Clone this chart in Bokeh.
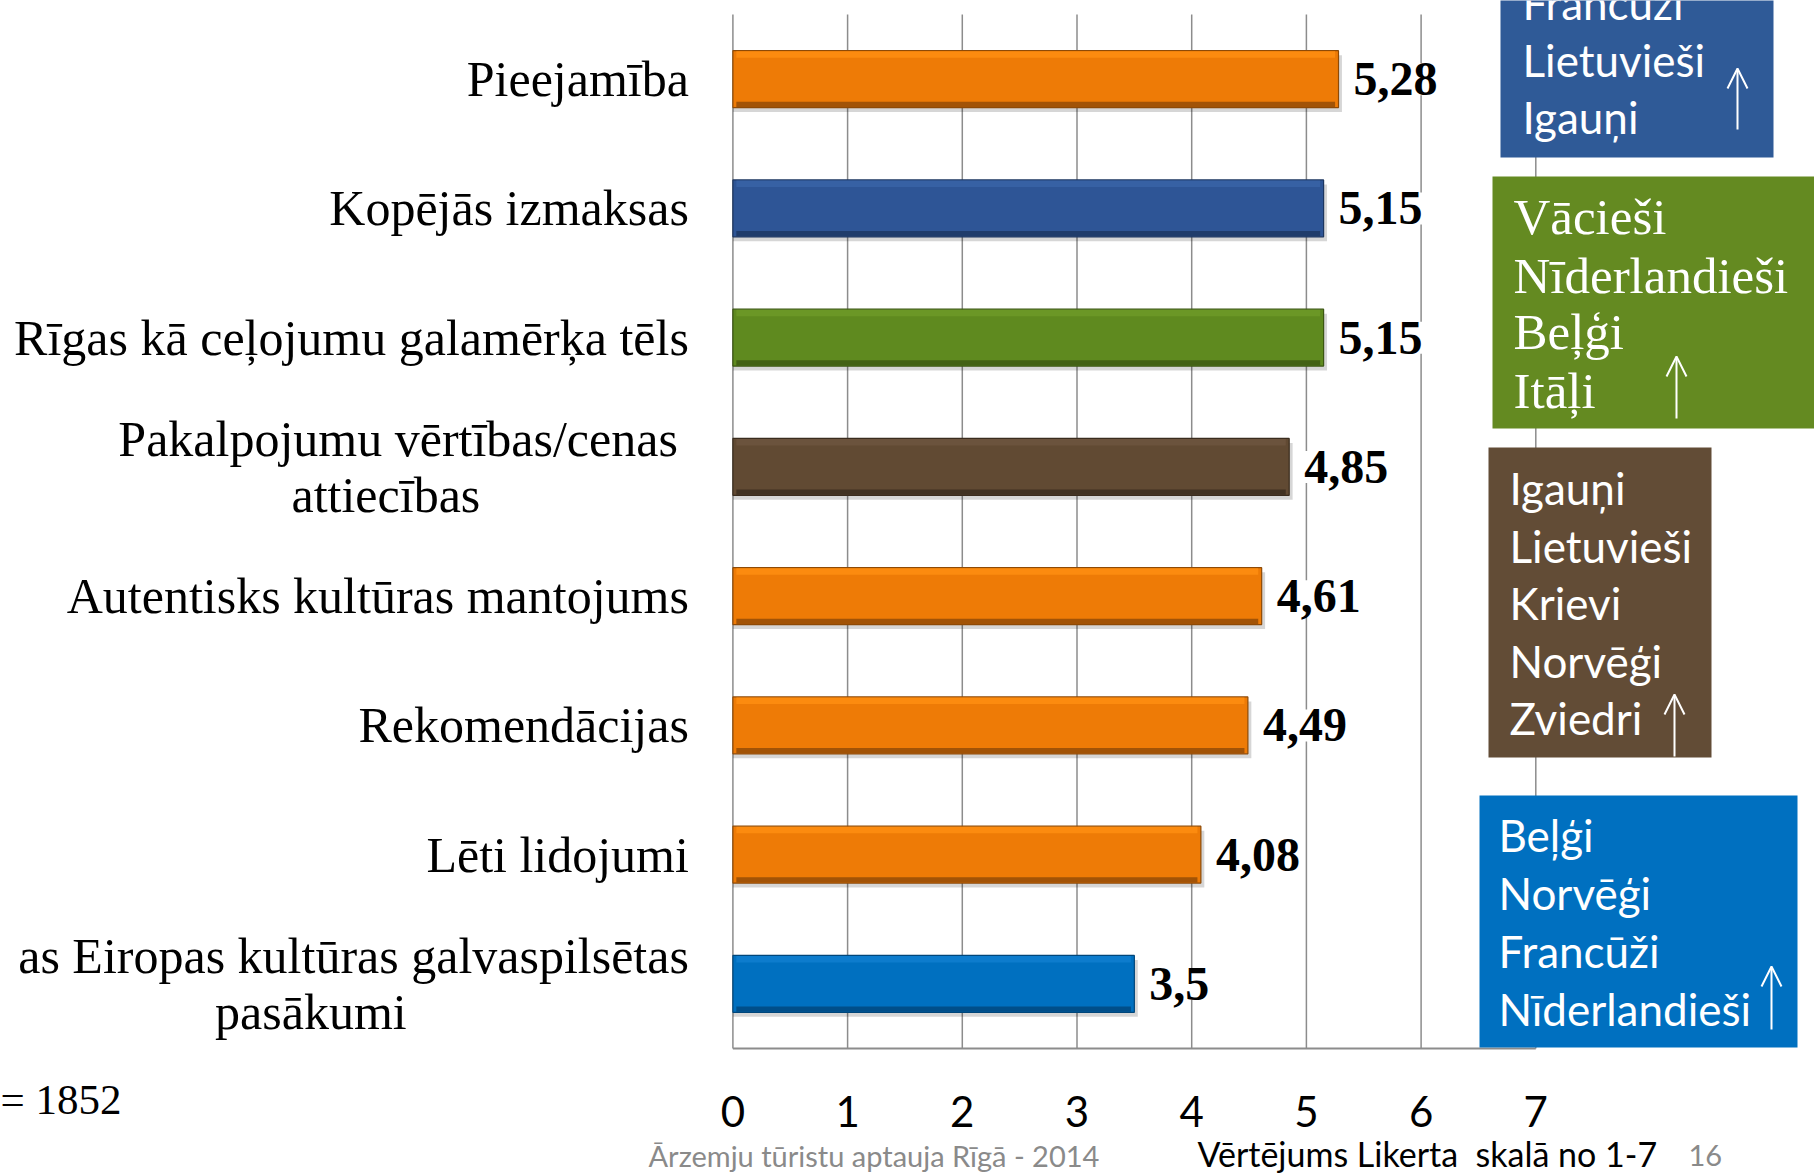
from bokeh.plotting import figure
from bokeh.layouts import column
from bokeh.models import Range1d, FactorRange, ColumnDataSource, Arrow, OpenHead
from bokeh.transform import dodge
from bokeh.core.properties import value
from bokeh.embed import file_html
from bokeh.resources import INLINE

# ---------------- data ----------------
categories = [
    "Pieejamība",
    "Kopējās izmaksas",
    "Rīgas kā ceļojumu galamērķa tēls",
    "Pakalpojumu vērtības/cenas attiecības",
    "Autentisks kultūras mantojums",
    "Rekomendācijas",
    "Lēti lidojumi",
    "Eiropas kultūras galvaspilsētas pasākumi",
]
label_line1 = [
    "Pieejamība",
    "Kopējās izmaksas",
    "Rīgas kā ceļojumu galamērķa tēls",
    "Pakalpojumu vērtības/cenas",
    "Autentisks kultūras mantojums",
    "Rekomendācijas",
    "Lēti lidojumi",
    "as Eiropas kultūras galvaspilsētas",
]
label_line2 = ["", "", "", "attiecības", "", "", "", "pasākumi"]
scores = [5.28, 5.15, 5.15, 4.85, 4.61, 4.49, 4.08, 3.5]
bar_colors = ["#EE7B06", "#2E5596", "#5F8A1F", "#614A33", "#EE7B06", "#EE7B06", "#EE7B06", "#0070C0"]
bar_dark = ["#8E4A06", "#1C3660", "#3B5612", "#3A2C1E", "#8E4A06", "#8E4A06", "#8E4A06", "#00467A"]
bar_light = ["#FF9012", "#3A64A8", "#6E9A28", "#6E5540", "#FF9012", "#FF9012", "#FF9012", "#1080D0"]
ticks = [0, 1, 2, 3, 4, 5, 6, 7]
tick_labels = ["0", "1", "2", "3", "4", "5", "6", "7"]

group1 = ["Francūži", "Lietuvieši", "Igauņi"]
group2 = ["Vācieši", "Nīderlandieši", "Beļģi", "Itāļi"]
group3 = ["Igauņi", "Lietuvieši", "Krievi", "Norvēģi", "Zviedri"]
group4 = ["Beļģi", "Norvēģi", "Francūži", "Nīderlandieši"]
box_colors = ["#2F5A97", "#648A21", "#624C36", "#0070C0"]

sample_text = "= 1852"
footer_left = "Ārzemju tūristu aptauja Rīgā - 2014"
footer_mid = "Vērtējums Likerta\u00a0 skalā no 1-7"
footer_page = "16"

# ---------------- layout (page pixels) ----------------
W, H = 1814, 1175
X0_PX, UNIT_PX = 732.4, 114.7
Y_TOP, Y_BOT = 14.0, 1048.0
ROW = (Y_BOT - Y_TOP) / len(categories)
H1 = 1062                      # height of the chart part
H2 = H - H1                    # height of the footer strip
PAD = Y_TOP / ROW              # synthetic padding above / below the rows


def dx(px):
    return (px - X0_PX) / UNIT_PX


def dy(py):
    return (Y_BOT - py) / ROW


x_range = Range1d(dx(0), dx(W))

p = figure(
    width=W, height=H1, x_range=x_range,
    y_range=FactorRange(factors=categories[::-1], range_padding=PAD, range_padding_units="absolute"),
    output_backend="svg", toolbar_location=None, title=None,
    x_axis_location=None, y_axis_location=None,
    min_border_left=0, min_border_right=0, min_border_top=0, min_border_bottom=0,
    background_fill_color="white", border_fill_color="white", outline_line_color=None,
)
for g in p.grid:
    g.visible = False

GRID = "#8C8C8C"
# vertical grid lines at the ticks, spanning the category rows, and the base line
p.segment(x0=ticks, x1=ticks, y0=[0] * len(ticks), y1=[len(categories)] * len(ticks),
          line_color=GRID, line_width=1.5)
p.segment(x0=[ticks[0]], y0=[0], x1=[ticks[-1]], y1=[0], line_color=GRID, line_width=2)

# bars
BAR_H = 0.44
src = ColumnDataSource(dict(
    cat=categories, score=scores, color=bar_colors, dark=bar_dark, light=bar_light,
    label=[("%g" % s).replace(".", ",") for s in scores],
))
p.hbar(y=dodge("cat", -0.035, range=p.y_range), left=0, right=dodge("score", 0.03), height=BAR_H,
       fill_color="#000000", fill_alpha=0.16, line_color=None, source=src)
p.hbar(y="cat", left=0, right="score", height=BAR_H, fill_color="color",
       line_color="dark", line_width=1.2, source=src)
p.hbar(y=dodge("cat", BAR_H / 2 - 0.03, range=p.y_range), left=0.03, right=dodge("score", -0.03),
       height=0.05, fill_color="light", fill_alpha=0.8, line_color=None, source=src)
p.hbar(y=dodge("cat", -BAR_H / 2 + 0.025, range=p.y_range), left=0.03, right=dodge("score", -0.03),
       height=0.04, fill_color="dark", fill_alpha=0.8, line_color=None, source=src)

# value labels
p.text(x="score", y="cat", text="label", x_offset=15, text_align="left", text_baseline="middle",
       text_font=value("Liberation Serif"), text_font_style="bold", text_font_size="48px",
       text_color="#000000", background_fill_color="white", source=src)

# category labels
single = [i for i in range(len(categories)) if not label_line2[i]]
double = [i for i in range(len(categories)) if label_line2[i]]
line1_offset = {3: -55, 7: -44}
line2_offset = {3: -347, 7: -422}
src_single = ColumnDataSource(dict(cat=[categories[i] for i in single], t=[label_line1[i] for i in single]))
src_double = ColumnDataSource(dict(
    cat=[categories[i] for i in double],
    t1=[label_line1[i] for i in double], t2=[label_line2[i] for i in double],
    o1=[line1_offset[i] for i in double], o2=[line2_offset[i] for i in double],
))
LBL = dict(text_font=value("Liberation Serif"), text_font_size="50px", text_color="#000000",
           text_baseline="middle")
p.text(x=0, y="cat", text="t", x_offset=-44, text_align="right", source=src_single, **LBL)
p.text(x=0, y=dodge("cat", 0.215, range=p.y_range), text="t1", x_offset="o1", text_align="right",
       source=src_double, **LBL)
p.text(x=0, y=dodge("cat", -0.215, range=p.y_range), text="t2", x_offset="o2", text_align="center",
       source=src_double, **LBL)

# side boxes (line positions are the vertical centres of the text lines)
boxes = [
    dict(l=1500, r=1773, t=-5, b=157, tx=1522, mid=[2, 59, 116], arrow=(1737, 129, 68),
         names=group1, font="Lato", size="44px"),
    dict(l=1492, r=1830, t=176, b=428, tx=1513, mid=[216, 275, 331, 390], arrow=(1676, 418, 356),
         names=group2, font="Liberation Serif", size="51px"),
    dict(l=1488, r=1711, t=447, b=757, tx=1509, mid=[487, 545, 602, 660, 717], arrow=(1674, 756, 694),
         names=group3, font="Lato", size="44px"),
    dict(l=1479, r=1797, t=795, b=1047, tx=1498, mid=[834, 892, 950, 1008], arrow=(1771, 1029, 966),
         names=group4, font="Lato", size="44px"),
]
for bx, col in zip(boxes, box_colors):
    p.quad(left=[dx(bx["l"])], right=[dx(bx["r"])], top=[dy(bx["t"])], bottom=[dy(bx["b"])],
           fill_color=col, line_color=None)
    p.text(x=[dx(bx["tx"])] * len(bx["names"]), y=[dy(m) for m in bx["mid"]], text=bx["names"],
           text_font=value(bx["font"]), text_font_size=bx["size"], text_color="white",
           text_baseline="middle", text_align="left")
    axp, ay0, ay1 = bx["arrow"]
    p.add_layout(Arrow(x_start=dx(axp), y_start=dy(ay0), x_end=dx(axp), y_end=dy(ay1),
                       line_color="white", line_width=2,
                       end=OpenHead(size=20, line_color="white", line_width=2)))

# ---------------- footer strip: tick labels, sample size, source ----------------
q = figure(
    width=W, height=H2, x_range=x_range, y_range=Range1d(H2, 0),
    output_backend="svg", toolbar_location=None, title=None,
    x_axis_location=None, y_axis_location=None,
    min_border_left=0, min_border_right=0, min_border_top=0, min_border_bottom=0,
    background_fill_color="white", border_fill_color="white", outline_line_color=None,
)
for g in q.grid:
    g.visible = False


def fy(py):
    return py - H1


q.text(x=ticks, y=[fy(1111)] * len(ticks), text=tick_labels, text_align="center",
       text_baseline="middle", text_font=value("Lato"), text_font_size="42px", text_color="#000000")
q.text(x=[dx(0)], y=[fy(1099)], text=[sample_text], text_align="left", text_baseline="middle",
       text_font=value("Liberation Serif"), text_font_size="43px", text_color="#000000")
q.text(x=[dx(648)], y=[fy(1155)], text=[footer_left], text_align="left", text_baseline="middle",
       text_font=value("Lato"), text_font_size="29px", text_color="#8A8A8A")
q.text(x=[dx(1197)], y=[fy(1153)], text=[footer_mid], text_align="left", text_baseline="middle",
       text_font=value("Lato"), text_font_size="34px", text_color="#000000")
q.text(x=[dx(1688)], y=[fy(1155)], text=[footer_page], text_align="left", text_baseline="middle",
       text_font=value("Lato"), text_font_size="29px", text_color="#8A8A8A")

layout = column(p, q, spacing=0)
open("out.html", "w").write(file_html(layout, INLINE))
